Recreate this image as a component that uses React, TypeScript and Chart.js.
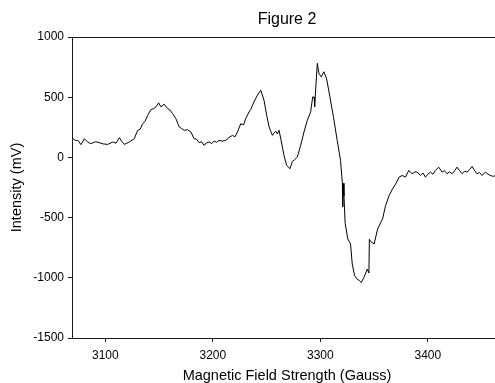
import React, { useEffect, useRef } from "react";
import { Chart, registerables } from "chart.js";

Chart.register(...registerables);

const chartTitle = "Figure 2";
const xAxisTitle = "Magnetic Field Strength (Gauss)";
const yAxisTitle = "Intensity (mV)";

const xTickValues = [3100, 3200, 3300, 3400];
const yTickValues = [-1500, -1000, -500, 0, 500, 1000];

const fieldGauss = [
  3070.0, 3072.2, 3074.4, 3077.4, 3080.5, 3083.7, 3086.0, 3088.3, 3091.0, 3094.4,
  3098.0, 3102.2, 3106.9, 3110.0, 3113.0, 3115.5, 3117.6, 3122.3, 3126.9, 3130.1,
  3132.5, 3134.7, 3137.0, 3139.4, 3142.4, 3145.0, 3147.1, 3149.6, 3151.7, 3154.8,
  3157.9, 3160.0, 3162.6, 3165.6, 3168.7, 3171.0, 3173.4, 3176.5, 3179.6, 3182.6,
  3185.0, 3187.3, 3189.5, 3191.9, 3194.0, 3196.6, 3199.0, 3201.2, 3203.5, 3205.8,
  3209.0, 3212.1, 3215.0, 3218.3, 3220.5, 3222.9, 3226.0, 3228.5, 3230.6, 3233.7,
  3235.3, 3238.3, 3241.5, 3244.6, 3246.0, 3247.6, 3250.1, 3252.3, 3255.4, 3257.0,
  3258.5, 3260.0, 3261.6, 3263.8, 3266.2, 3268.7, 3271.8, 3274.0, 3276.0, 3278.6,
  3281.7, 3284.8, 3287.9, 3291.0, 3292.9, 3294.3, 3294.7, 3295.9, 3297.2, 3298.7,
  3300.9, 3303.3, 3305.8, 3308.9, 3312.3, 3315.7, 3318.8, 3320.5, 3320.8, 3321.3,
  3322.0, 3323.1, 3325.6, 3328.1, 3329.7, 3331.9, 3334.3, 3336.0, 3338.1, 3340.5,
  3343.7, 3345.2, 3345.6, 3347.0, 3350.1, 3353.3, 3356.3, 3357.9, 3360.7, 3364.0,
  3367.2, 3370.2, 3373.3, 3376.1, 3379.2, 3382.3, 3385.4, 3388.0, 3390.1, 3393.1,
  3395.5, 3397.8, 3400.0, 3402.4, 3404.8, 3407.1, 3410.1, 3413.3, 3415.5, 3417.9,
  3420.0, 3422.6, 3425.0, 3427.2, 3429.5, 3431.9, 3434.0, 3436.5, 3439.0, 3441.2,
  3443.5, 3445.8, 3448.0, 3450.5, 3453.5, 3456.0, 3458.1, 3461.2, 3464.0,
];

const intensityMv = [
  155, 140, 142, 106, 155, 128, 115, 120, 130, 122,
  112, 108, 128, 118, 164, 130, 108, 128, 155, 225,
  235, 280, 300, 350, 397, 405, 420, 453, 420, 442,
  405, 395, 364, 322, 253, 240, 225, 230, 211, 155,
  150, 122, 130, 100, 120, 128, 115, 136, 125, 142,
  135, 142, 165, 183, 170, 211, 280, 270, 322, 378,
  400, 461, 517, 558, 520, 475, 350, 253, 183, 205,
  217, 195, 225, 128, 17, -67, -94, -33, -20, 3,
  100, 211, 308, 378, 503, 500, 420, 600, 781, 697,
  669, 711, 656, 503, 330, 142, -25, -215, -410, -215,
  -320, -550, -678, -719, -886, -983, -1011, -1020, -1039, -997,
  -928, -960, -680, -700, -719, -594, -539, -511, -400, -317,
  -261, -219, -164, -150, -164, -108, -136, -120, -122, -150,
  -130, -164, -140, -122, -140, -108, -81, -122, -110, -136,
  -120, -136, -110, -81, -110, -136, -115, -122, -100, -75,
  -110, -136, -125, -150, -122, -140, -150, -158, -140,
];

const xMin = 3069;
const xMax = 3469;
const yMin = -1500;
const yMax = 1000;

const FONT = "'Liberation Sans', Arial, sans-serif";
const AXIS_COLOR = "#1a1a1a";

export default function App() {
  const canvasRef = useRef<HTMLCanvasElement | null>(null);

  useEffect(() => {
    const canvas = canvasRef.current;
    if (!canvas) return;

    const titlePlugin = {
      id: "figTitle",
      afterDraw(chart: any) {
        const { ctx, chartArea } = chart;
        ctx.save();
        ctx.font = `16px ${FONT}`;
        ctx.fillStyle = "#000";
        ctx.textAlign = "center";
        ctx.textBaseline = "middle";
        ctx.fillText(chartTitle, (chartArea.left + chartArea.right) / 2, 20);
        ctx.strokeStyle = AXIS_COLOR;
        ctx.lineWidth = 1;
        ctx.beginPath();
        ctx.moveTo(chartArea.left, Math.round(chartArea.top) + 0.5);
        ctx.lineTo(chartArea.right, Math.round(chartArea.top) + 0.5);
        ctx.stroke();
        ctx.restore();
      },
    };

    const points = fieldGauss.map((x, i) => ({ x, y: intensityMv[i] }));

    const chart = new Chart(canvas, {
      type: "line",
      data: {
        datasets: [
          {
            data: points,
            borderColor: "#000",
            borderWidth: 1,
            pointRadius: 0,
            tension: 0,
            fill: false,
          },
        ],
      },
      options: {
        animation: false,
        responsive: false,
        maintainAspectRatio: false,
        devicePixelRatio: 1,
        layout: { padding: { top: 37, right: 0, left: 0, bottom: 0 } },
        plugins: {
          legend: { display: false },
          tooltip: { enabled: false },
          title: { display: false },
        },
        scales: {
          x: {
            type: "linear",
            min: xMin,
            max: xMax,
            afterFit: (scale: any) => {
              scale.height = 45;
            },
            afterBuildTicks: (scale: any) => {
              scale.ticks = xTickValues.map((v) => ({ value: v }));
            },
            ticks: {
              color: "#000",
              font: { family: FONT, size: 12 },
              padding: 6,
              maxRotation: 0,
              autoSkip: false,
              callback: (v: any) => String(v),
            },
            grid: {
              drawOnChartArea: false,
              drawTicks: true,
              tickLength: 4,
              color: AXIS_COLOR,
            },
            border: { display: true, color: AXIS_COLOR, width: 1 },
            title: {
              display: true,
              text: xAxisTitle,
              color: "#000",
              font: { family: FONT, size: 14.5, lineHeight: 1 },
              padding: { top: 0, bottom: 0 },
            },
          },
          y: {
            type: "linear",
            min: yMin,
            max: yMax,
            afterFit: (scale: any) => {
              scale.width = 72;
            },
            afterBuildTicks: (scale: any) => {
              scale.ticks = yTickValues.map((v) => ({ value: v }));
            },
            ticks: {
              color: "#000",
              font: { family: FONT, size: 12 },
              padding: 4,
              autoSkip: false,
              callback: (v: any) => String(v),
            },
            grid: {
              drawOnChartArea: false,
              drawTicks: true,
              tickLength: 4,
              color: AXIS_COLOR,
            },
            border: { display: true, color: AXIS_COLOR, width: 1 },
            title: {
              display: true,
              text: yAxisTitle,
              color: "#000",
              font: { family: FONT, size: 14.5, lineHeight: 1 },
              padding: { top: 10, bottom: 0 },
            },
          },
        },
      },
      plugins: [titlePlugin],
    });

    return () => {
      chart.destroy();
    };
  }, []);

  return (
    <div
      style={{
        position: "fixed",
        left: 0,
        top: 0,
        width: 495,
        height: 383,
        overflow: "hidden",
        background: "#fff",
      }}
    >
      <canvas
        ref={canvasRef}
        width={502}
        height={383}
        style={{ width: 502, height: 383, display: "block" }}
      />
    </div>
  );
}
